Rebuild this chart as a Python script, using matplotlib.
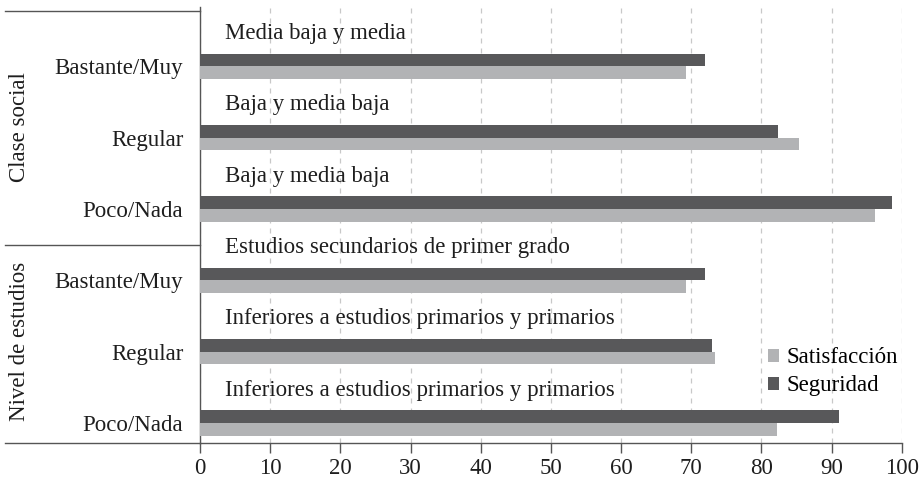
import matplotlib
matplotlib.use("Agg")
from matplotlib import pyplot as plt
import numpy as np

categories = ["Bastante/Muy", "Regular", "Poco/Nada",
              "Bastante/Muy", "Regular", "Poco/Nada"]
notes = ["Media baja y media", "Baja y media baja", "Baja y media baja",
         "Estudios secundarios de primer grado",
         "Inferiores a estudios primarios y primarios",
         "Inferiores a estudios primarios y primarios"]
satisfaccion = [69.3, 85.3, 96.2, 69.3, 73.4, 82.2]
seguridad = [71.9, 82.4, 98.6, 71.9, 73.0, 91.0]
groups = ["Clase social", "Nivel de estudios"]

plt.rcParams['font.family'] = ['Liberation Serif', 'DejaVu Serif']

dark = '#58585a'
light = '#b2b3b5'
txtc = '#1e1e1e'
fs = 16.5

fig = plt.figure(figsize=(9.2, 4.8), dpi=100, facecolor='white')
ax = fig.add_axes([200/920, 37/480, 701.7/920, 436/480])

n = len(categories)
y = np.arange(n)[::-1].astype(float)
h = 0.177

ax.barh(y - h/2, satisfaccion, height=h, color=light, label='Satisfacción', zorder=3)
ax.barh(y + h/2, seguridad, height=h, color=dark, label='Seguridad', zorder=3)

for yi, txt in zip(y, notes):
    ax.text(3.6, yi + 0.46, txt, va='center', ha='left', fontsize=fs, color=txtc)

ax.set_xlim(0, 100)
ax.set_ylim(-0.28, 5.83)
ax.set_xticks(np.arange(0, 101, 10))
ax.set_yticks(y)
ax.set_yticklabels(categories)
ax.tick_params(axis='y', length=0, pad=12, labelsize=fs, labelcolor=txtc)
ax.tick_params(axis='x', length=7, width=1, color='#555555', labelsize=fs,
               labelcolor=txtc, pad=4)
ax.xaxis.grid(True, linestyle=(0, (4, 4)), color='#c8c8c8', linewidth=0.9, zorder=0)
for s in ['top', 'right']:
    ax.spines[s].set_visible(False)
for s in ['left', 'bottom']:
    ax.spines[s].set_color('#555555')
    ax.spines[s].set_linewidth(1)

# group brackets on the left
trans = ax.get_yaxis_transform()
for yy in [5.83 - 0.05, 2.5, -0.28]:
    ax.plot([-195/701.7, 0], [yy, yy], transform=trans, color='#555555',
            linewidth=1, clip_on=False)
ax.text(-180/701.7, 4.15, groups[0], transform=trans, rotation=90,
        va='center', ha='center', fontsize=fs, color=txtc)
ax.text(-180/701.7, 1.14, groups[1], transform=trans, rotation=90,
        va='center', ha='center', fontsize=fs, color=txtc)

handles, labels = ax.get_legend_handles_labels()
ax.legend(handles, labels, loc='center left', bbox_to_anchor=(0.793, 0.163),
          frameon=False, fontsize=fs, handlelength=0.5, handleheight=0.5,
          handletextpad=0.3, labelspacing=0.3, borderpad=0)

plt.savefig('out.png', dpi=100, facecolor='white')
